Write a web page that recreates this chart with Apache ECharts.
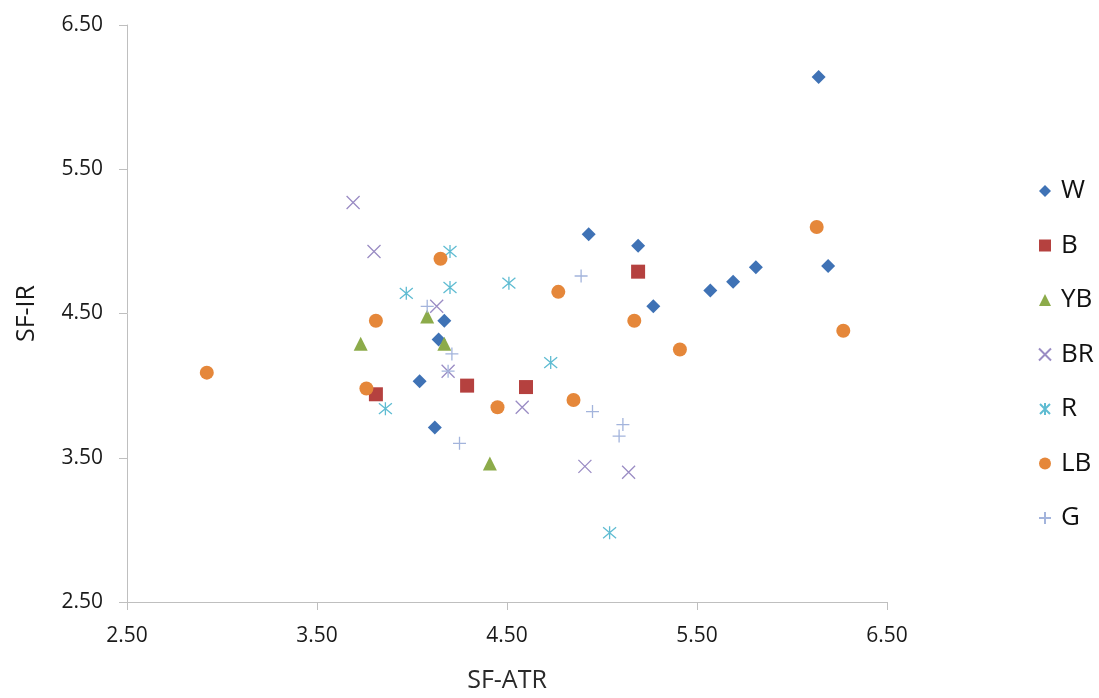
<!DOCTYPE html>
<html>
<head>
<meta charset="utf-8">
<title>SF-ATR vs SF-IR</title>
<script src="https://cdn.jsdelivr.net/npm/echarts@6/dist/echarts.min.js"></script>
<style>
  html, body { margin: 0; padding: 0; background: #ffffff; }
  #chart { width: 1099px; height: 698px; }
</style>
</head>
<body>
<div id="chart"></div>
<script>
// Axis range and tick labels
const xTicks = ['2.50', '3.50', '4.50', '5.50', '6.50'];
const yTicks = ['2.50', '3.50', '4.50', '5.50', '6.50'];

// Point groups: [SF-ATR, SF-IR]
const W = [
  [6.14, 6.14], [4.93, 5.05], [5.19, 4.97], [5.81, 4.82], [6.19, 4.83],
  [5.69, 4.72], [5.57, 4.66], [5.27, 4.55], [4.17, 4.45], [4.14, 4.32],
  [4.04, 4.03], [4.12, 3.71]
];
const B = [[5.19, 4.79], [4.29, 4.00], [4.60, 3.99], [3.81, 3.94]];
const YB = [[4.08, 4.48], [3.73, 4.29], [4.17, 4.29], [4.41, 3.46]];
const BR = [
  [3.69, 5.27], [3.80, 4.93], [4.13, 4.55], [4.19, 4.10],
  [4.58, 3.85], [4.91, 3.44], [5.14, 3.40]
];
const R = [
  [4.20, 4.93], [4.20, 4.68], [3.97, 4.64], [4.51, 4.71],
  [4.73, 4.16], [3.86, 3.84], [5.04, 2.98]
];
const LB = [
  [2.92, 4.09], [3.81, 4.45], [3.76, 3.98], [4.15, 4.88], [4.77, 4.65],
  [4.45, 3.85], [4.85, 3.90], [5.17, 4.45], [5.41, 4.25], [6.13, 5.10],
  [6.27, 4.38]
];
const G = [
  [4.08, 4.55], [4.21, 4.22], [4.19, 4.10], [4.25, 3.60],
  [4.89, 4.76], [4.95, 3.82], [5.11, 3.73], [5.09, 3.65]
];

const FONT = '"Open Sans", "DejaVu Sans", sans-serif';

// Stroke-only marker shapes
const CROSS = 'path://M0,0L10,10M10,0L0,10';
const STAR = 'path://M0,0L10,10M10,0L0,10M5,-1L5,11';
const PLUS = 'path://M5,0L5,10M0,5L10,5';

function filled(name, data, symbol, size, color) {
  return {
    name, type: 'scatter', data, symbol, symbolSize: size,
    itemStyle: { color: color, opacity: 1 },
    emphasis: { disabled: true }
  };
}
function stroked(name, data, symbol, size, color) {
  return {
    name, type: 'scatter', data, symbol, symbolSize: size,
    itemStyle: { color: 'rgba(0,0,0,0)', borderColor: color, borderWidth: 1.3, opacity: 1 },
    emphasis: { disabled: true }
  };
}

const chart = echarts.init(document.getElementById('chart'), null, { renderer: 'canvas' });

const axisStyle = {
  axisLine: { show: true, onZero: false, lineStyle: { color: '#bfbfbf', width: 1 } },
  axisTick: { show: true, inside: false, length: 8, lineStyle: { color: '#bfbfbf', width: 1 } },
  splitLine: { show: false }
};

chart.setOption({
  animation: false,
  backgroundColor: '#ffffff',
  grid: { left: 127, right: 212, top: 25, bottom: 93, containLabel: false },
  xAxis: Object.assign({
    type: 'value',
    min: 2.5, max: 6.5, interval: 1,
    name: 'SF-ATR', nameLocation: 'middle', nameGap: 66,
    nameTextStyle: { fontFamily: FONT, fontSize: 25, color: '#2a2a2a' },
    axisLabel: {
      margin: 24, fontFamily: FONT, fontSize: 21, color: '#1a1a1a',
      formatter: (v) => xTicks.find(t => Math.abs(parseFloat(t) - v) < 1e-6) || ''
    }
  }, axisStyle),
  yAxis: Object.assign({
    type: 'value',
    min: 2.5, max: 6.5, interval: 1,
    name: 'SF-IR', nameLocation: 'middle', nameGap: 88, nameRotate: 90,
    nameTextStyle: { fontFamily: FONT, fontSize: 25, color: '#1a1a1a', padding: [0, 0, 0, 0] },
    axisLabel: {
      margin: 24, fontFamily: FONT, fontSize: 21, color: '#1a1a1a',
      formatter: (v) => yTicks.find(t => Math.abs(parseFloat(t) - v) < 1e-6) || ''
    }
  }, axisStyle),
  legend: {
    orient: 'vertical',
    left: 1033, top: 173,
    itemWidth: 12, itemHeight: 12, itemGap: 28.5,
    selectedMode: false,
    textStyle: { fontFamily: FONT, fontSize: 26, lineHeight: 26, color: '#111111', padding: [0, 0, 0, 5] },
    data: ['W', 'B', 'YB', 'BR', 'R', 'LB', 'G']
  },
  series: [
    filled('W', W, 'diamond', 14, '#3f72b5'),
    filled('B', B, 'rect', 14, '#b5413f'),
    filled('YB', YB, 'triangle', 14, '#8cab4a'),
    stroked('BR', BR, CROSS, 13, '#9a8cc4'),
    stroked('R', R, STAR, 13, '#5fbcd2'),
    filled('LB', LB, 'circle', 14, '#e5873a'),
    stroked('G', G, PLUS, 13, '#a3b4dc')
  ]
});
</script>
</body>
</html>
